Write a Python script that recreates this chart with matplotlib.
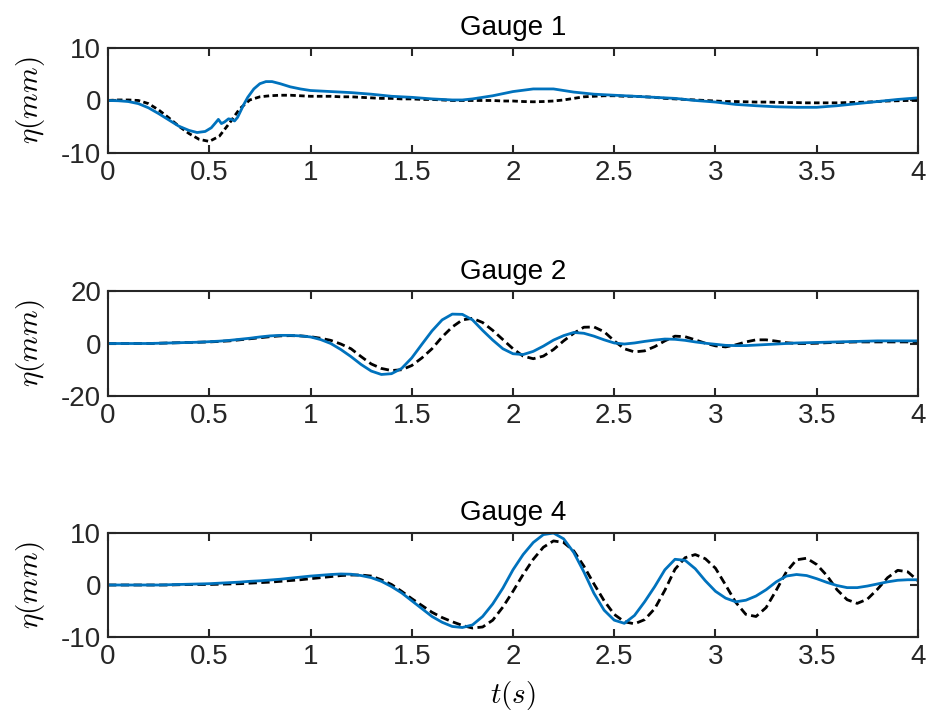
import numpy as np
import matplotlib
matplotlib.use("Agg")
import matplotlib.pyplot as plt

plt.rcParams['font.family'] = ['Liberation Sans', 'DejaVu Sans']
plt.rcParams['mathtext.fontset'] = 'cm'

# common time grid (s)
t = np.linspace(0, 4, 81)

# Gauge 1 - simulation (blue), own time samples to keep the wiggle near 0.55 s
t_g1 = [0, 0.05, 0.1, 0.15, 0.2, 0.25, 0.3, 0.35, 0.4, 0.44, 0.48, 0.51, 0.53, 0.545,
        0.56, 0.575, 0.595, 0.61, 0.625, 0.64, 0.655, 0.67, 0.69, 0.72, 0.75, 0.78, 0.81,
        0.85, 0.9, 0.95, 1.0, 1.1, 1.2, 1.3, 1.4, 1.5, 1.6, 1.7, 1.75, 1.8, 1.9, 2.0, 2.1,
        2.2, 2.3, 2.4, 2.5, 2.6, 2.7, 2.8, 2.9, 3.0, 3.1, 3.2, 3.3, 3.4, 3.5,
        3.6, 3.7, 3.8, 3.9, 4.0]
g1_sim = [0, -0.05, -0.2, -0.6, -1.4, -2.5, -3.7, -4.9, -5.7, -6.1, -5.9, -5.2, -4.3, -3.6,
          -4.4, -4.1, -3.5, -3.6, -3.9, -3.2, -2.0, -0.8, 0.6, 2.2, 3.2, 3.6, 3.6,
          3.2, 2.6, 2.2, 1.9, 1.7, 1.5, 1.2, 0.8, 0.6, 0.3, 0.1, 0.1, 0.3, 0.9, 1.7, 2.2,
          2.2, 1.6, 1.2, 1.0, 0.8, 0.6, 0.4, 0.0, -0.3, -0.75, -1.0, -1.2, -1.3, -1.3,
          -1.0, -0.6, -0.2, 0.2, 0.5]

# Gauge 1 - measured (black dashed)
g1_exp = [0, 0.1, 0.1, 0, -0.6, -1.8, -3.3, -4.9, -6.3, -7.4,
          -7.8, -6.8, -4.3, -1.6, 0.1, 0.7, 0.9, 1.0, 1.0, 0.9,
          0.8, 0.8, 0.8, 0.7, 0.7, 0.6, 0.5, 0.4, 0.4, 0.3,
          0.3, 0.2, 0.2, 0.1, 0, 0, 0, 0, 0, -0.1,
          -0.1, -0.2, -0.25, -0.2, -0.1, 0.1, 0.4, 0.7, 0.8, 0.9,
          0.9, 0.8, 0.8, 0.7, 0.6, 0.4, 0.3, 0.2, 0.1, 0,
          -0.1, -0.2, -0.2, -0.25, -0.3, -0.3, -0.35, -0.4, -0.4, -0.45,
          -0.45, -0.45, -0.45, -0.4, -0.35, -0.3, -0.2, -0.1, -0.05, 0,
          0]

# Gauge 2
g2_sim = [0, 0, 0, 0, 0, 0.1, 0.2, 0.3, 0.4, 0.5,
          0.7, 0.9, 1.2, 1.6, 2.0, 2.5, 2.9, 3.1, 3.1, 2.9,
          2.5, 1.5, 0, -2.3, -5.0, -8.0, -10.5, -11.8, -11.5, -9.5,
          -5.5, -0.3, 4.8, 9.0, 11.2, 11.1, 9.0, 5.0, 1.3, -2.0,
          -3.9, -4.2, -3.0, -1.0, 1.3, 3.0, 4.2, 3.9, 2.8, 1.4,
          0.2, -0.2, 0.2, 0.8, 1.3, 1.7, 1.6, 1.2, 0.6, 0.1,
          -0.3, -0.7, -0.8, -0.8, -0.6, -0.4, -0.2, 0, 0.2, 0.3,
          0.4, 0.5, 0.6, 0.7, 0.8, 0.9, 1.0, 1.0, 1.0, 1.0,
          1.0]
g2_exp = [0, 0, 0, 0, 0, 0.1, 0.2, 0.3, 0.4, 0.5,
          0.6, 0.8, 1.0, 1.4, 1.8, 2.2, 2.6, 2.9, 3.0, 2.9,
          2.6, 2.0, 1.2, -0.2, -2.0, -5.0, -7.8, -9.5, -10.3, -10.0,
          -8.4, -5.5, -2.0, 2.5, 6.3, 9.0, 9.6, 8.0, 5.0, 1.5,
          -2.0, -4.8, -5.8, -4.8, -2.3, 1.0, 3.9, 6.2, 6.3, 4.5,
          1.0, -2.0, -3.2, -2.8, -1.2, 1.0, 2.8, 2.6, 1.4, 0.1,
          -0.9, -1.3, -0.5, 0.6, 1.4, 1.4, 0.9, 0.3, 0, 0,
          0.1, 0.3, 0.4, 0.5, 0.6, 0.6, 0.6, 0.6, 0.6, 0.6,
          0.6]

# Gauge 4
g4_sim = [0, 0, 0, 0, 0, 0, 0.05, 0.1, 0.15, 0.2,
          0.25, 0.35, 0.45, 0.55, 0.7, 0.8, 0.95, 1.1, 1.3, 1.5,
          1.7, 1.85, 2.0, 2.1, 2.05, 1.8, 1.4, 0.7, -0.3, -1.5,
          -3.0, -4.5, -6.0, -7.1, -7.9, -8.1, -7.6, -6.0, -3.6, -0.6,
          2.9, 5.8, 8.1, 9.6, 9.9, 8.8, 6.2, 2.5, -1.6, -4.8,
          -6.7, -7.3, -5.8, -3.2, -0.3, 2.9, 4.9, 4.7, 3.1, 0.8,
          -1.2, -2.5, -3.2, -2.9, -2.1, -0.9, 0.6, 1.7, 2.0, 1.8,
          1.2, 0.5, -0.1, -0.5, -0.5, -0.2, 0.2, 0.6, 0.9, 1.0,
          1.0]
g4_exp = [0, 0, 0, 0, 0, 0, 0, 0.05, 0.1, 0.1,
          0.1, 0.15, 0.2, 0.25, 0.35, 0.45, 0.55, 0.7, 0.85, 1.0,
          1.2, 1.4, 1.6, 1.8, 1.9, 1.9, 1.7, 1.0, 0.1, -1.2,
          -2.6, -3.9, -5.2, -6.2, -7.0, -7.7, -8.2, -8.0, -6.7, -4.2,
          -1.2, 2.0, 4.9, 7.2, 8.4, 8.1, 6.5, 3.6, 0.2, -3.0,
          -5.6, -7.0, -7.4, -6.6, -4.5, -1.0, 3.0, 5.2, 5.8, 5.0,
          3.2, 0.0, -3.3, -5.6, -6.0, -4.3, -1.0, 2.5, 4.8, 5.1,
          3.9, 1.8, -0.9, -2.8, -3.5, -2.7, -0.8, 1.4, 2.8, 2.5,
          0.8]

panels = [
    ("Gauge 1", t_g1, g1_sim, g1_exp, (-10, 10), [-10, 0, 10], (0, (2, 1.2))),
    ("Gauge 2", t, g2_sim, g2_exp, (-20, 20), [-20, 0, 20], (0, (3, 1.6))),
    ("Gauge 4", t, g4_sim, g4_exp, (-10, 10), [-10, 0, 10], (0, (3, 1.6))),
]
bottoms = [0.789, 0.4538, 0.1207]

fig = plt.figure(figsize=(9.28, 7.25), dpi=100)
dark = '#262626'
for (title, ts, ysim, yexp, ylim, yt, dash), b in zip(panels, bottoms):
    ax = fig.add_axes([0.1164, b, 0.8728, 0.1448])
    ax.plot(t, yexp, color='k', linestyle=dash, linewidth=2.0)
    ax.plot(ts, ysim, color='#0072BD', linewidth=2.0)
    ax.set_xlim(0, 4)
    ax.set_ylim(*ylim)
    ax.set_xticks([0, 0.5, 1, 1.5, 2, 2.5, 3, 3.5, 4])
    ax.set_xticklabels(['0', '0.5', '1', '1.5', '2', '2.5', '3', '3.5', '4'])
    ax.set_yticks(yt)
    ax.set_yticklabels([str(v) for v in yt])
    ax.tick_params(direction='in', top=True, right=True, length=6, width=1.5,
                   labelsize=20, colors=dark, pad=5)
    for s in ax.spines.values():
        s.set_linewidth(1.5)
        s.set_color(dark)
    ax.set_title(title, fontsize=20, color='k', pad=9)
    ax.set_ylabel(r'$\eta(mm)$', fontsize=21, labelpad=10)
    if b == bottoms[-1]:
        ax.set_xlabel(r'$t(s)$', fontsize=21, labelpad=6)

fig.savefig("out.png", dpi=100)
